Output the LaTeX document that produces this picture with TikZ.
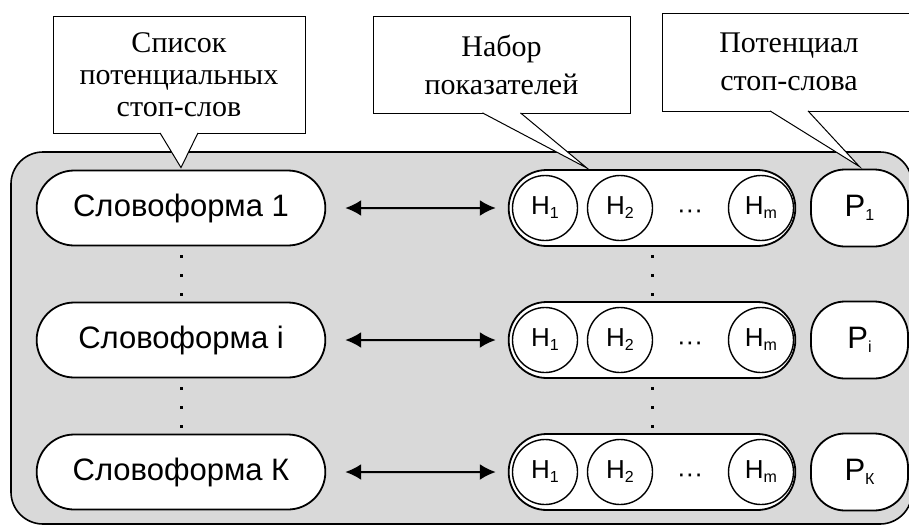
\documentclass[tikz,border=0pt]{standalone}
\usepackage{fontspec}
\setmainfont{Liberation Serif}
\setsansfont{Liberation Sans}
\usetikzlibrary{arrows.meta,shapes.misc}
\newcommand{\lowidx}[1]{\raisebox{-2pt}{\fontsize{8}{9}\selectfont #1}}

\begin{document}
\begin{tikzpicture}[x=0.5pt,y=-0.5pt,
    word/.style={draw,line width=0.9pt,fill=white,rounded rectangle,
      minimum width=151pt,minimum height=37.5pt,
      font=\sffamily\fontsize{15.5}{17}\selectfont},
    hset/.style={draw,line width=0.9pt,fill=white,rounded rectangle,
      minimum width=150pt,minimum height=38pt},
    hcirc/.style={draw,line width=0.7pt,circle,minimum size=32.5pt,inner sep=0pt,
      font=\sffamily\fontsize{13}{15}\selectfont},
    pot/.style={draw,line width=0.9pt,fill=white,rounded corners=17pt,
      minimum width=48.5pt,minimum height=38.5pt,
      font=\sffamily\fontsize{15.5}{17}\selectfont},
    note/.style={draw,line width=0.5pt,fill=white,align=center,inner sep=0pt},
    tip/.style={draw,line width=0.5pt,fill=white},
    link/.style={<->,>={Latex[length=8pt,width=8pt]},line width=1pt,
      shorten <=9.5pt,shorten >=6pt}]
  \useasboundingbox (0,0) rectangle (909,525);
  \draw[line width=0.8pt,fill=black!15,rounded corners=16pt] (11,152) rectangle (912,524);

  \foreach \r/\y/\s in {1/208/1,2/340/i,3/472/К}{
    \node[word] (w\r) at (181,\y) {Словоформа \s};
    \node[hset] (h\r) at (652,\y) {};
    \node[hcirc] (h\r a) at (545,\y) {H\lowidx{1}};
    \node[hcirc] (h\r b) at (620,\y) {H\lowidx{2}};
    \node[font=\sffamily\fontsize{13}{15}\selectfont] (h\r c) at (690,\y+6) {···};
    \node[hcirc] (h\r m) at (761,\y) {H\lowidx{m}};
    \node[pot] (p\r) at (859.5,\y) {P\lowidx{\s}};
    \draw[link] (w\r) -- (h\r);
  }
  % vertical dots between rows
  \foreach \y in {274,406}{
    \foreach \d in {-18,1,20}{
      \fill (179.5,\y+\d-1.5) rectangle +(3,3);
      \fill (650.5,\y+\d-1.5) rectangle +(3,3);
    }
  }

  % callouts
  \coordinate (t1) at ([yshift=1pt]w1.north);
  \coordinate (t2) at ([xshift=-32.5pt,yshift=0.5pt]h1.north);
  \coordinate (t3) at ([yshift=1pt]p1.north);
  \node[note,minimum width=126pt,minimum height=58.5pt,
    font=\fontsize{15}{16}\selectfont] (c1) at (179,74.5)
    {Список\\потенциальных\\стоп-слов};
  \node[note,minimum width=128.5pt,minimum height=48.5pt,
    font=\fontsize{15}{19}\selectfont] (c2) at (501.5,64.5)
    {Набор\\показателей};
  \node[note,minimum width=127pt,minimum height=49pt,
    font=\fontsize{15}{19}\selectfont] (c3) at (789,62)
    {Потенциал\\стоп-слова};
  \foreach \c in {1,2,3}{
    \filldraw[tip] ([xshift=-9.5pt,yshift=0.3pt]c\c.south) -- (t\c)
      -- ([xshift=9.5pt,yshift=0.3pt]c\c.south);
  }
\end{tikzpicture}
\end{document}
